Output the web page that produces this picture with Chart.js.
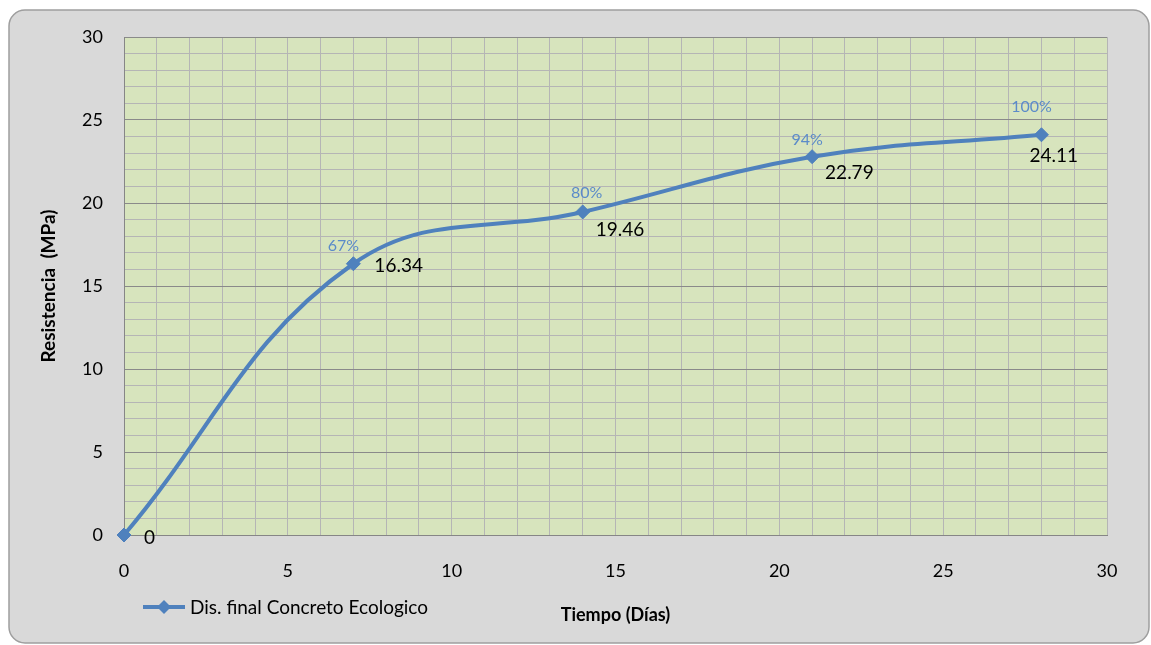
<!DOCTYPE html>
<html>
<head>
<meta charset="utf-8">
<script src="https://cdn.jsdelivr.net/npm/chart.js@4/dist/chart.umd.min.js"></script>
<style>
  html, body { margin: 0; padding: 0; background: #ffffff; }
  #wrap { width: 1151px; height: 645px; position: relative; }
</style>
</head>
<body>
<div id="wrap"><canvas id="c" width="1151" height="645"></canvas></div>
<script>
// Curing age (days) and compressive strength (MPa)
const days = [0, 7, 14, 21, 28];
const strength = [0, 16.34, 19.46, 22.79, 24.11];
const percentLabels = ['', '67%', '80%', '94%', '100%'];
const xTickLabels = [0, 5, 10, 15, 20, 25, 30];
const yTickLabels = [0, 5, 10, 15, 20, 25, 30];
const seriesName = 'Dis. final Concreto Ecologico';
const xTitle = 'Tiempo (Días)';
const yTitle = 'Resistencia  (MPa)';

// Label placement relative to each point (pixels)
const pctOffsets = [null, [-10, -18], [4, -19], [-5, -17], [-10, -28]];
const valOffsets = [[20, 3], [21, 2], [13, 18], [13, 16], [-12, 21]];

const FONT = 'Lato, "Open Sans", sans-serif';
const LINE_COLOR = '#4F81BD';

const frame = {
  id: 'frame',
  beforeDraw(chart) {
    const { ctx, chartArea: a } = chart;
    ctx.save();
    ctx.fillStyle = '#ffffff';
    ctx.fillRect(0, 0, chart.width, chart.height);
    const x = 9, y = 10, w = 1140, h = 633, r = 16;
    ctx.beginPath();
    ctx.moveTo(x + r, y);
    ctx.lineTo(x + w - r, y);
    ctx.arcTo(x + w, y, x + w, y + r, r);
    ctx.lineTo(x + w, y + h - r);
    ctx.arcTo(x + w, y + h, x + w - r, y + h, r);
    ctx.lineTo(x + r, y + h);
    ctx.arcTo(x, y + h, x, y + h - r, r);
    ctx.lineTo(x, y + r);
    ctx.arcTo(x, y, x + r, y, r);
    ctx.closePath();
    ctx.fillStyle = '#D9D9D9';
    ctx.fill();
    ctx.lineWidth = 1.5;
    ctx.strokeStyle = '#9E9E9E';
    ctx.stroke();
    ctx.fillStyle = '#D7E4BD';
    ctx.fillRect(a.left, a.top, a.right - a.left, a.bottom - a.top);
    ctx.restore();
  }
};

function diamond(ctx, x, y, r) {
  ctx.beginPath();
  ctx.moveTo(x - r, y);
  ctx.lineTo(x, y - r);
  ctx.lineTo(x + r, y);
  ctx.lineTo(x, y + r);
  ctx.closePath();
  ctx.fill();
}

const pointLabels = {
  id: 'pointLabels',
  afterDatasetsDraw(chart) {
    const { ctx } = chart;
    const meta = chart.getDatasetMeta(0);
    ctx.save();
    meta.data.forEach((pt, i) => {
      const pct = percentLabels[i];
      if (pct && pctOffsets[i]) {
        ctx.font = '16px ' + FONT;
        ctx.fillStyle = '#5B8BC9';
        ctx.textAlign = 'center';
        ctx.textBaseline = 'middle';
        ctx.fillText(pct, pt.x + pctOffsets[i][0], pt.y + pctOffsets[i][1]);
      }
      const v = strength[i];
      ctx.font = '19px ' + FONT;
      ctx.fillStyle = '#000000';
      ctx.textAlign = 'left';
      ctx.textBaseline = 'middle';
      ctx.fillText(String(v), pt.x + valOffsets[i][0], pt.y + valOffsets[i][1]);
    });
    ctx.restore();
  },
  afterDraw(chart) {
    const { ctx } = chart;
    const y = 607;
    ctx.save();
    ctx.strokeStyle = LINE_COLOR;
    ctx.lineWidth = 4;
    ctx.beginPath();
    ctx.moveTo(143, y);
    ctx.lineTo(185, y);
    ctx.stroke();
    ctx.fillStyle = LINE_COLOR;
    diamond(ctx, 164, y, 7);
    ctx.font = '19px ' + FONT;
    ctx.fillStyle = '#000000';
    ctx.textAlign = 'left';
    ctx.textBaseline = 'middle';
    ctx.fillText(seriesName, 190, y + 1);
    ctx.restore();
  }
};

new Chart(document.getElementById('c'), {
  type: 'line',
  data: {
    datasets: [{
      label: seriesName,
      data: days.map((d, i) => ({ x: d, y: strength[i] })),
      borderColor: LINE_COLOR,
      backgroundColor: LINE_COLOR,
      borderWidth: 4,
      pointStyle: 'rectRot',
      pointRadius: 7,
      pointHoverRadius: 7,
      pointBorderWidth: 1,
      pointBorderColor: LINE_COLOR,
      pointBackgroundColor: LINE_COLOR,
      tension: 0.4,
      fill: false,
      clip: false
    }]
  },
  options: {
    responsive: false,
    devicePixelRatio: 1,
    animation: false,
    events: [],
    layout: { padding: { top: 37, right: 44, left: 0, bottom: 0 } },
    plugins: {
      legend: { display: false },
      tooltip: { enabled: false }
    },
    scales: {
      x: {
        type: 'linear',
        min: 0,
        max: 30,
        afterFit: s => { s.height = 110; },
        ticks: {
          stepSize: 1,
          autoSkip: false,
          maxRotation: 0,
          padding: 25,
          color: '#000000',
          font: { family: FONT, size: 18 },
          callback: v => (xTickLabels.includes(v) ? String(v) : '')
        },
        grid: { color: '#B5B5B5', lineWidth: 1, drawTicks: false },
        border: { color: '#868686', width: 1 },
        title: {
          display: true,
          text: xTitle,
          color: '#000000',
          font: { family: FONT, size: 18, weight: 'bold' },
          padding: { top: 0, bottom: 19 }
        }
      },
      y: {
        type: 'linear',
        min: 0,
        max: 30,
        afterFit: s => { s.width = 124; },
        ticks: {
          stepSize: 1,
          autoSkip: false,
          padding: 21,
          color: '#000000',
          font: { family: FONT, size: 18 },
          callback: v => (yTickLabels.includes(v) ? String(v) : '')
        },
        grid: {
          color: c => (c.tick && c.tick.value % 5 === 0 ? '#8A8A8A' : '#B5B5B5'),
          lineWidth: 1,
          drawTicks: false
        },
        border: { color: '#868686', width: 1 },
        title: {
          display: true,
          text: yTitle,
          color: '#000000',
          font: { family: FONT, size: 19, weight: 'bold' },
          padding: { top: 37, bottom: 0 }
        }
      }
    }
  },
  plugins: [frame, pointLabels]
});
</script>
</body>
</html>
